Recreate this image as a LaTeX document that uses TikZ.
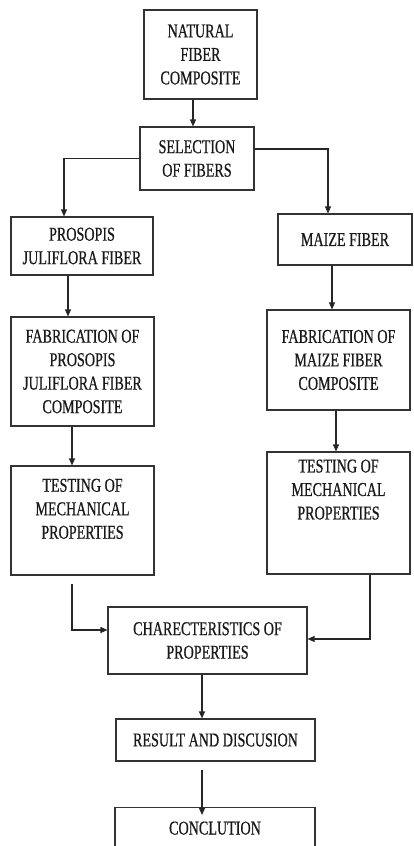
\documentclass[tikz,border=0pt]{standalone}
\usepackage{fontspec}
\setmainfont{Liberation Serif}[FakeStretch=0.72,FakeBold=0.6]
\usetikzlibrary{positioning}
\usetikzlibrary{arrows.meta}
\newcommand{\boxfont}{\fontsize{19.6}{23.5}\selectfont}
\tikzset{x=1pt, y=-1pt,
	>={Triangle[length=7pt,width=6pt]},
	stepbox/.style={
		draw=black!80,
		line width=1.1pt,
		align=center,
		text=black!90,
		font=\boxfont},
	flow/.style={
		->,
		draw=black!85,
		line width=1.1pt}
}
\begin{document}
\begin{tikzpicture}
			\useasboundingbox (0,0) rectangle (414,846);
			\node[stepbox, minimum width=113, minimum height=89] (nat) at (200.5,54.5) {NATURAL\\FIBER\\COMPOSITE};
			\node[stepbox, minimum width=114, minimum height=63] (sel) at (197,158.5) {SELECTION\\OF FIBERS};
			\node[stepbox, minimum width=142, minimum height=58] (pros) at (82,246) {PROSOPIS\\JULIFLORA FIBER};
			\node[stepbox, minimum width=134, minimum height=51] (maize) at (345,239.5) {MAIZE FIBER};
			\node[stepbox, minimum width=143, minimum height=109] (fab1) at (82.5,371.5) {FABRICATION OF\\PROSOPIS\\JULIFLORA FIBER\\COMPOSITE};
			\node[stepbox, minimum width=143, minimum height=100] (fab2) at (338.5,360) {FABRICATION OF\\MAIZE FIBER\\COMPOSITE};
			\node[stepbox, minimum width=143, minimum height=109] (test1) at (82.5,520.5) {TESTING OF\\MECHANICAL\\PROPERTIES\\~};
			\node[stepbox, minimum width=143, minimum height=122] (test2) at (338.5,513) {TESTING OF\\MECHANICAL\\PROPERTIES\\~\\~};
			\node[stepbox, minimum width=199, minimum height=67] (char) at (207.5,640.5) {CHARECTERISTICS OF\\PROPERTIES};
			\node[stepbox, minimum width=199, minimum height=42] (res) at (215.5,740) {RESULT AND DISCUSION};
			\node[stepbox, anchor=north, minimum width=200, minimum height=88] (concl) at (215,807) {CONCLUTION\\~\\~};
			% connectors
			\draw[flow] ([xshift=-7.5pt]nat.south) -- ([xshift=-7.5pt]nat.south |- sel.north);
			\draw[flow] (sel.west) -| ([xshift=-18pt]pros.north);
			\draw[flow] ([yshift=9.5pt]sel.east) -| ([xshift=-17pt]maize.north);
			\draw[flow] ([xshift=-14pt]pros.south) -- ([xshift=-14pt]pros.south |- fab1.north);
			\draw[flow] ([xshift=-13pt]maize.south) -- ([xshift=-13pt]maize.south |- fab2.north);
			\draw[flow] ([xshift=-10.5pt]fab1.south) -- ([xshift=-10.5pt]fab1.south |- test1.north);
			\draw[flow] ([xshift=-2.5pt]fab2.south) -- ([xshift=-2.5pt]fab2.south |- test2.north);
			\draw[flow] ([xshift=-10.5pt,yshift=-8pt]test1.south) |- ([yshift=10.5pt]char.west);
			\draw[flow] ([xshift=31.5pt]test2.south) |- ([yshift=1.5pt]char.east);
			\draw[flow] ([xshift=-5.5pt]char.south) -- ([xshift=-5.5pt]char.south |- res.north);
			\draw[flow] ([xshift=-13.5pt,yshift=-8pt]res.south) -- ([xshift=-13.5pt,yshift=-8pt]res.south |- concl.north);
		\end{tikzpicture}
\end{document}
